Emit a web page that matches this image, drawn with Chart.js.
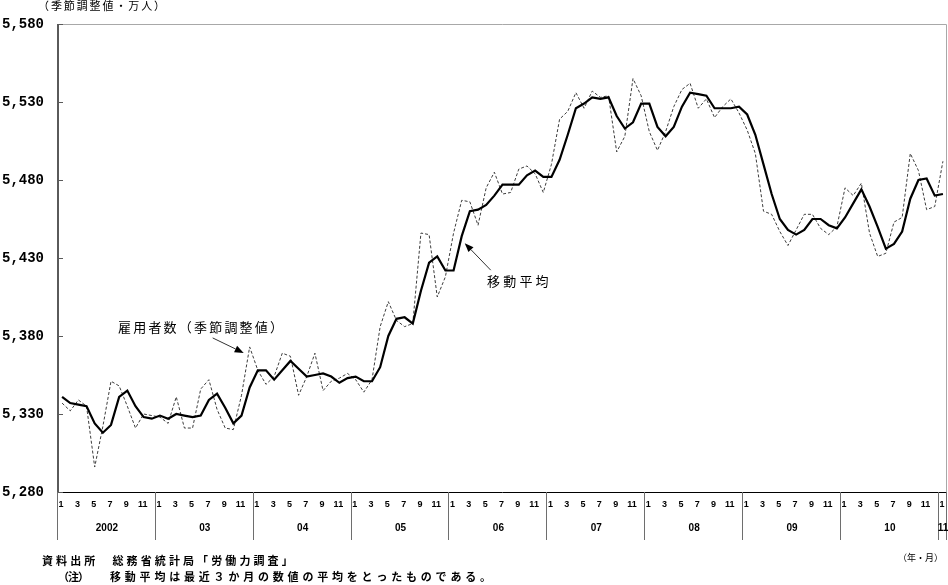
<!DOCTYPE html>
<html>
<head>
<meta charset="utf-8">
<script src="https://cdn.jsdelivr.net/npm/chart.js@4.4.1/dist/chart.umd.min.js"></script>
<style>
  body { margin: 0; background: #fff; }
  #wrap { position: relative; width: 948px; height: 585px; }
</style>
</head>
<body>
<div id="wrap"><canvas id="employChart" width="948" height="585"></canvas></div>
<script>
// 年・月ラベル
const years = ['2002', '03', '04', '05', '06', '07', '08', '09', '10', '11'];
const monthTicks = [1, 3, 5, 7, 9, 11];
const yTicks = [5280, 5330, 5380, 5430, 5480, 5530, 5580];

// 雇用者数（季節調整値、万人） 2002/1 - 2011/1
const employed = [
  5337, 5332, 5339, 5335, 5296, 5322, 5351, 5348, 5335, 5321, 5330, 5329,
  5328, 5324, 5341, 5321, 5321, 5346, 5352, 5333, 5321, 5320, 5342, 5373,
  5358, 5349, 5354, 5369, 5367, 5342, 5354, 5369, 5345, 5351, 5353, 5356,
  5352, 5344, 5352, 5386, 5402, 5390, 5386, 5388, 5446, 5445, 5405, 5418,
  5446, 5467, 5466, 5451, 5475, 5485, 5471, 5472, 5487, 5489, 5484, 5472,
  5490, 5519, 5524, 5536, 5526, 5537, 5533, 5534, 5498, 5508, 5545, 5534,
  5511, 5499, 5511, 5527, 5538, 5542, 5526, 5532, 5520, 5527, 5532, 5523,
  5512, 5497, 5460, 5458, 5447, 5438, 5448, 5458, 5458, 5449, 5445, 5450,
  5475, 5470, 5478, 5446, 5431, 5433, 5453, 5456, 5497, 5486, 5461, 5463,
  5492
];

// 移動平均（3か月）
const movingAvg = [
  5341, 5337, 5336, 5335, 5324, 5318, 5323, 5341, 5345, 5335, 5328, 5327,
  5329, 5327, 5330, 5329, 5328, 5329, 5339, 5343, 5334, 5324, 5329, 5347,
  5358, 5358, 5352, 5358, 5364, 5359, 5354, 5355, 5356, 5354, 5350, 5353,
  5354, 5351, 5351, 5360, 5380, 5391, 5392, 5388, 5409, 5427, 5431, 5422,
  5422, 5444, 5460, 5461, 5464, 5470, 5477, 5477, 5477, 5483, 5486, 5482,
  5482, 5493, 5509, 5526, 5529, 5533, 5532, 5533, 5521, 5513, 5517, 5529,
  5529, 5514, 5508, 5514, 5527, 5536, 5535, 5534, 5526, 5526, 5526, 5527,
  5522, 5509, 5490, 5471, 5455, 5448, 5445, 5448, 5455, 5455, 5451, 5449,
  5456, 5465, 5474, 5463, 5450, 5436, 5439, 5447, 5468, 5480, 5481, 5470,
  5471
];

const categories = [];
const catYear = [];
const catMonth = [];
years.forEach((y, yi) => {
  const n = yi === years.length - 1 ? 1 : 12;
  for (let m = 1; m <= n; m++) {
    categories.push(y + '/' + m);
    catYear.push(yi);
    catMonth.push(m);
  }
});

const JP = '"Noto Sans CJK JP", "Noto Sans", sans-serif';

function jpText(ctx, str, x, y, size, spacing, weight) {
  ctx.font = (weight || 'normal') + ' ' + size + 'px ' + JP;
  ctx.letterSpacing = (spacing || 0) + 'px';
  ctx.fillText(str, x, y);
  ctx.letterSpacing = '0px';
}

function arrow(ctx, x1, y1, x2, y2) {
  const ang = Math.atan2(y2 - y1, x2 - x1);
  const len = 9, hw = 3.5;
  const bx = x2 - Math.cos(ang) * len, by = y2 - Math.sin(ang) * len;
  ctx.strokeStyle = '#333';
  ctx.lineWidth = 1;
  ctx.beginPath();
  ctx.moveTo(x1, y1);
  ctx.lineTo(bx, by);
  ctx.stroke();
  ctx.fillStyle = '#000';
  ctx.beginPath();
  ctx.moveTo(x2, y2);
  ctx.lineTo(bx + Math.sin(ang) * hw, by - Math.cos(ang) * hw);
  ctx.lineTo(bx - Math.sin(ang) * hw, by + Math.cos(ang) * hw);
  ctx.closePath();
  ctx.fill();
}

const framePlugin = {
  id: 'frame',
  beforeDatasetsDraw(chart) {
    const { ctx, chartArea: a, scales: { x, y } } = chart;
    ctx.save();
    // 上・右の枠
    ctx.strokeStyle = '#a8a8a8';
    ctx.lineWidth = 1;
    ctx.beginPath();
    ctx.moveTo(a.left, a.top + 0.5);
    ctx.lineTo(a.right - 0.5, a.top + 0.5);
    ctx.lineTo(a.right - 0.5, a.bottom);
    ctx.stroke();
    // 下の軸
    ctx.strokeStyle = '#000';
    ctx.beginPath();
    ctx.moveTo(a.left, a.bottom + 0.5);
    ctx.lineTo(a.right, a.bottom + 0.5);
    ctx.stroke();
    // 左の軸と目盛
    ctx.strokeStyle = '#5a5a5a';
    ctx.lineWidth = 2;
    ctx.beginPath();
    ctx.moveTo(a.left, a.top);
    ctx.lineTo(a.left, a.bottom + 1);
    ctx.stroke();
    ctx.lineWidth = 1;
    ctx.beginPath();
    yTicks.forEach(v => {
      const py = Math.round(y.getPixelForValue(v)) + 0.5;
      ctx.moveTo(a.left, py);
      ctx.lineTo(a.left + 5, py);
    });
    ctx.stroke();

    // 年の区切り線
    const bounds = [];
    catMonth.forEach((m, i) => {
      if (m === 1) {
        bounds.push(i === 0 ? a.left : (x.getPixelForValue(i - 1) + x.getPixelForValue(i)) / 2);
      }
    });
    bounds.push(a.right);
    ctx.strokeStyle = '#6e6e6e';
    ctx.beginPath();
    bounds.forEach(bx => {
      const px = Math.round(bx) - 0.5;
      ctx.moveTo(px, a.bottom);
      ctx.lineTo(px, a.bottom + 48);
    });
    ctx.stroke();

    // 月ラベル
    ctx.fillStyle = '#000';
    ctx.textAlign = 'center';
    ctx.textBaseline = 'middle';
    ctx.font = 'bold 9px "Liberation Sans", Arial, sans-serif';
    catMonth.forEach((m, i) => {
      if (monthTicks.includes(m)) ctx.fillText(String(m), x.getPixelForValue(i) - 1, a.bottom + 13);
    });
    // 年ラベル
    ctx.font = 'bold 10px "Liberation Sans", Arial, sans-serif';
    years.forEach((yr, yi) => {
      const cx = (bounds[yi] + bounds[yi + 1]) / 2;
      ctx.fillText(yr, cx, a.bottom + 36);
    });
    ctx.restore();
  },
  afterDraw(chart) {
    const { ctx, scales: { x, y } } = chart;
    ctx.save();
    ctx.fillStyle = '#000';
    ctx.textBaseline = 'middle';
    ctx.textAlign = 'left';

    jpText(ctx, '（季節調整値・万人）', 38, 6, 11, 1.9);

    // 注記と矢印
    jpText(ctx, '雇用者数（季節調整値）', 118, 327, 13, 2.2);
    const t1x = x.getPixelForValue(23) - 6, t1y = y.getPixelForValue(employed[23]) + 6;
    arrow(ctx, t1x - 31, t1y - 15, t1x, t1y);

    jpText(ctx, '移動平均', 487, 281, 13, 3.2);
    const t2x = x.getPixelForValue(49) + 3, t2y = y.getPixelForValue(movingAvg[49]) + 7;
    arrow(ctx, t2x + 26, t2y + 27, t2x, t2y);

    // 出所・注
    ctx.fillStyle = '#000';
    jpText(ctx, '（年・月）', 898, 558, 9, 0);
    jpText(ctx, '資料出所　総務省統計局「労働力調査」', 42, 561, 11, 3.1, 'bold');
    jpText(ctx, '（注）', 58, 577, 11, -1, 'bold');
    jpText(ctx, '移動平均は最近３か月の数値の平均をとったものである。', 110, 577, 11, 3.8, 'bold');
    ctx.restore();
  }
};

new Chart(document.getElementById('employChart'), {
  type: 'line',
  data: {
    labels: categories,
    datasets: [
      {
        label: '移動平均',
        data: movingAvg,
        borderColor: '#000',
        borderWidth: 2.2,
        pointRadius: 0,
        tension: 0,
        fill: false
      },
      {
        label: '雇用者数（季節調整値）',
        data: employed,
        borderColor: '#3c3c3c',
        borderWidth: 1,
        borderDash: [3, 2],
        pointRadius: 0,
        tension: 0,
        fill: false
      }
    ]
  },
  options: {
    responsive: false,
    animation: false,
    devicePixelRatio: 1,
    layout: { padding: { top: 24, right: 1, left: 2, bottom: 0 } },
    plugins: {
      legend: { display: false },
      tooltip: { enabled: false }
    },
    scales: {
      x: {
        type: 'category',
        offset: true,
        grid: { display: false },
        border: { display: false },
        ticks: { display: false },
        afterFit: s => { s.height = 93; }
      },
      y: {
        min: 5280,
        max: 5580,
        grid: { display: false },
        border: { display: false },
        ticks: {
          stepSize: 50,
          crossAlign: 'far',
          padding: 0,
          color: '#000',
          font: { family: '"Liberation Mono", monospace', weight: 'bold', size: 14 },
          callback: v => v.toLocaleString('en-US')
        },
        afterFit: s => { s.width = 56; }
      }
    }
  },
  plugins: [framePlugin]
});
</script>
</body>
</html>
